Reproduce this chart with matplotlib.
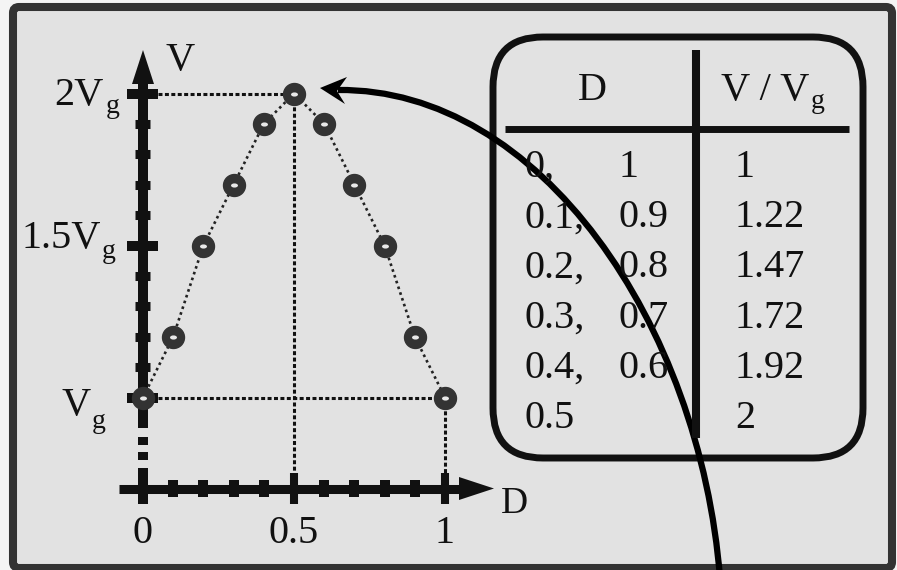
import matplotlib
matplotlib.use("Agg")
import matplotlib.pyplot as plt
from matplotlib.patches import FancyBboxPatch, Polygon, PathPatch
from matplotlib.path import Path
from matplotlib.transforms import Affine2D

plt.rcParams['font.family'] = ['Liberation Serif', 'DejaVu Serif']

# ---------------- data ----------------
duty = [0.0, 0.1, 0.2, 0.3, 0.4, 0.5, 0.6, 0.7, 0.8, 0.9, 1.0]
v_ratio = [1.0, 1.2, 1.5, 1.7, 1.9, 2.0, 1.9, 1.7, 1.5, 1.2, 1.0]

x_minor_ticks = [0.1, 0.2, 0.3, 0.4, 0.6, 0.7, 0.8, 0.9]
x_major_ticks = [0.5, 1.0]
x_label_pos = [0.0, 0.5, 1.0]
x_tick_labels = ['0', '0.5', '1']

y_major_ticks = [1.0, 1.5, 2.0]
y_minor_ticks = [1.1, 1.2, 1.3, 1.4, 1.6, 1.7, 1.8, 1.9]
y_tick_labels = ['V', '1.5V', '2V']
sub_label = 'g'

table_header = ['D', 'V / V']
table_d_low = ['0,', '0.1,', '0.2,', '0.3,', '0.4,', '0.5']
table_d_high = ['1', '0.9', '0.8', '0.7', '0.6', '']
table_v = ['1', '1.22', '1.47', '1.72', '1.92', '2']

# ---------------- figure ----------------
W, H = 897, 570
fig = plt.figure(figsize=(W / 100, H / 100), dpi=100)
fig.patch.set_facecolor('#f4f4f4')

BLACK = '#111111'
FS = 29
FS_SUB = 20

# background frame (pixel coordinates)
bg = fig.add_axes([0, 0, 1, 1], zorder=0)
bg.set_xlim(0, W); bg.set_ylim(H, 0); bg.axis('off')
bg.add_patch(FancyBboxPatch((13, 7), 879, 561, boxstyle='round,pad=0,rounding_size=6',
                            fc='#e2e2e2', ec='#333333', lw=5.8))

# data axes: D -> x, V/Vg -> y
X0, XS = 143.0, 302.0      # pixel of D=0, pixels per unit D
Y1, YS = 397.5, 304.0      # pixel of V=1, pixels per unit V
ax = fig.add_axes([0, 0, 1, 1], zorder=1)
ax.patch.set_alpha(0)
ax.axis('off')
ax.set_xlim(-X0 / XS, (W - X0) / XS)
ax.set_ylim(1 - (H - Y1) / YS, 1 + Y1 / YS)


def dpx(px):
    return (px - X0) / XS


def vpx(py):
    return 1 + (Y1 - py) / YS


# reference dotted lines
ref_kw = dict(color=BLACK, lw=2.2, linestyle=(0, (1.3, 0.8)), zorder=2)
ax.plot([dpx(158), 0.5], [2.0, 2.0], **ref_kw)
ax.plot([0.5, 0.5], [2.0, vpx(474)], **ref_kw)
ax.plot([dpx(158), 1.0], [1.0, 1.0], **ref_kw)
ax.plot([1.0, 1.0], [1.0, vpx(474)], **ref_kw)

# y axis (with broken segment)
ylw = 7.2
ax.plot([0, 0], [vpx(80), vpx(428)], color=BLACK, lw=ylw, solid_capstyle='butt', zorder=3)
for a, b in [(437, 445), (452, 460)]:
    ax.plot([0, 0], [vpx(a), vpx(b)], color=BLACK, lw=ylw, solid_capstyle='butt', zorder=3)
ax.plot([0, 0], [vpx(468), vpx(504)], color=BLACK, lw=ylw, solid_capstyle='butt', zorder=3)
ax.add_patch(Polygon([(0, vpx(50)), (dpx(132), vpx(84)), (dpx(154), vpx(84))],
                     closed=True, fc=BLACK, ec='none', zorder=3))
# y ticks
for v in y_minor_ticks:
    ax.plot([dpx(135), dpx(150)], [v, v], color=BLACK, lw=6.5, solid_capstyle='butt', zorder=3)
for v in y_major_ticks:
    ax.plot([dpx(127), dpx(158)], [v, v], color=BLACK, lw=7.2, solid_capstyle='butt', zorder=3)

# x axis
yax = vpx(488.5)
ax.plot([dpx(119), dpx(462)], [yax, yax], color=BLACK, lw=6.5, solid_capstyle='butt', zorder=3)
ax.add_patch(Polygon([(dpx(494), yax), (dpx(459), vpx(477)), (dpx(459), vpx(500))],
                     closed=True, fc=BLACK, ec='none', zorder=3))
for d in x_minor_ticks:
    ax.plot([d, d], [vpx(480), vpx(497)], color=BLACK, lw=7.2, solid_capstyle='butt', zorder=3)
for d in x_major_ticks:
    ax.plot([d, d], [vpx(473), vpx(504)], color=BLACK, lw=5.8, solid_capstyle='butt', zorder=3)

# data curve and markers
ax.plot(duty, v_ratio, color='#222222', lw=1.9, linestyle=(0, (1, 1.3)), zorder=4)
ax.plot(duty, v_ratio, linestyle='none', marker='o', ms=15.8, mfc='#333333', mec='#333333',
        zorder=5)
hole = Path.unit_circle().transformed(Affine2D().scale(1.0, 0.6))
ax.plot(duty, v_ratio, linestyle='none', marker=hole, ms=5.0, mfc='#e8e8e8', mec='none',
        zorder=6)

# tick labels
for d, lab in zip(x_label_pos, x_tick_labels):
    ax.text(d, vpx(543), lab, fontsize=FS, ha='center', va='baseline', color=BLACK)
# (main right edge px, main baseline px, subscript left px, subscript baseline px)
ylab_px = {1.0: (91, 415, 92, 428), 1.5: (101, 248, 102, 258), 2.0: (104, 105, 106, 113)}
for v, lab in zip(y_major_ticks, y_tick_labels):
    mx, my, sx, sy = ylab_px[v]
    ax.text(dpx(mx), vpx(my), lab, fontsize=FS, ha='right', va='baseline', color=BLACK)
    ax.text(dpx(sx), vpx(sy), sub_label, fontsize=FS_SUB, ha='left', va='baseline', color=BLACK)
ax.text(dpx(180), vpx(70), 'V', fontsize=FS, ha='center', va='baseline', color=BLACK)
ax.text(dpx(514), vpx(513), 'D', fontsize=27, ha='center', va='baseline', color=BLACK)

# ---------------- table + curved arrow (pixel coordinates) ----------------
ov = fig.add_axes([0, 0, 1, 1], zorder=2)
ov.set_xlim(0, W); ov.set_ylim(H, 0); ov.axis('off'); ov.patch.set_alpha(0)

ov.add_patch(FancyBboxPatch((493, 37), 370, 421, boxstyle='round,pad=0,rounding_size=50',
                            fc='none', ec=BLACK, lw=5.0))
ov.plot([505, 849], [129, 129], color=BLACK, lw=5.0, solid_capstyle='butt')
ov.plot([696, 696], [50, 438], color=BLACK, lw=5.8, solid_capstyle='butt')

ov.text(592, 100, table_header[0], fontsize=FS, ha='center', va='baseline', color=BLACK)
ov.text(721, 100, table_header[1], fontsize=FS, ha='left', va='baseline', color=BLACK)
ov.text(811, 108, sub_label, fontsize=FS_SUB, ha='left', va='baseline', color=BLACK)
for i, (a, b, c) in enumerate(zip(table_d_low, table_d_high, table_v)):
    yb = 177 + 50.2 * i
    ov.text(525, yb, a, fontsize=FS, ha='left', va='baseline', color=BLACK)
    ov.text(619, yb, b, fontsize=FS, ha='left', va='baseline', color=BLACK)
    ov.text(735, yb, c, fontsize=FS, ha='left', va='baseline', color=BLACK)

curve = Path([(720, 578), (700, 325), (540, 88), (338, 90)],
             [Path.MOVETO, Path.CURVE4, Path.CURVE4, Path.CURVE4])
ov.add_patch(PathPatch(curve, fc='none', ec='black', lw=4.5, capstyle='butt'))
ov.add_patch(Polygon([(320, 88), (347, 77), (337, 91), (345, 104)], closed=True,
                     fc='black', ec='none'))

fig.savefig('out.png', dpi=100)
